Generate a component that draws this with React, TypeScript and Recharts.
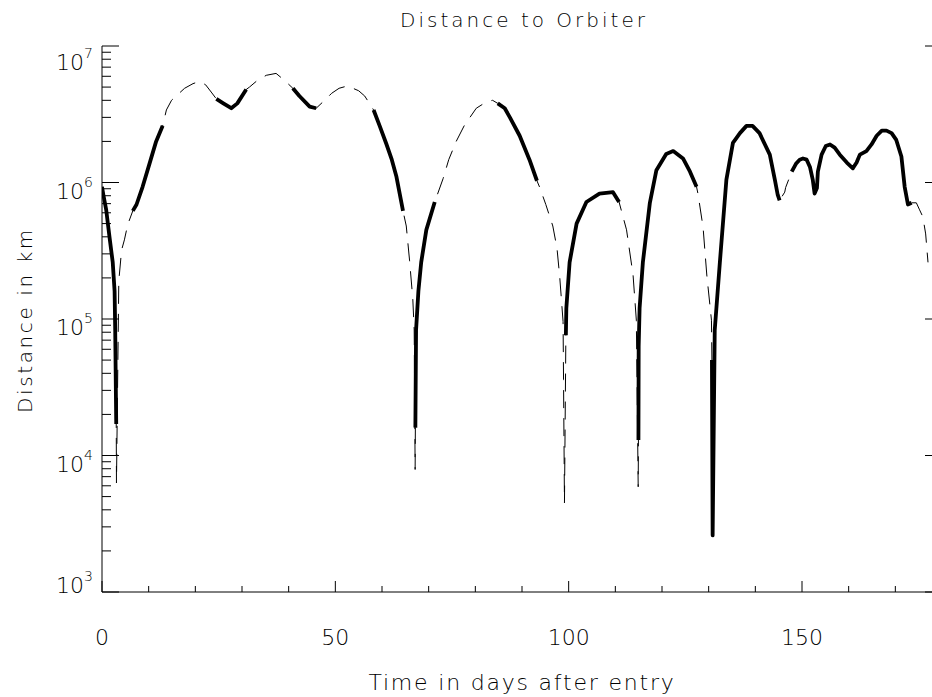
import { LineChart, Line, XAxis, YAxis } from 'recharts';

// time after entry (days)
const days = [
  0, 0.3, 0.9, 1.6, 2.3, 2.7, 2.83, 3.05, 3.1, 3.6, 4.2, 4.8, 5.5,
  6.6, 7.4, 8.7, 10.2, 11.6, 13.0,
  13.8, 14.9, 16.2, 17.7, 19.5, 20.9, 22.2, 23.4,
  24.5, 26.0, 27.7, 29.0, 30.9,
  31.6, 33.3, 35.2, 37.3, 39.1,
  40.9, 42.3, 44.5, 45.9,
  47.7, 49.2, 50.8, 52.6, 55.0, 56.3, 57.3,
  58.2, 59.5, 60.9, 62.1, 63.1, 64.5,
  65.2, 65.9, 66.6, 66.9, 67.1,
  67.15, 67.3, 67.8, 68.4, 69.5, 71.3,
  73.1, 74.3, 75.9, 77.6, 80.2, 82.4, 83.7,
  84.8, 86.3, 87.4, 89.5, 91.6, 93.2,
  93.8, 95.1, 96.6, 97.5, 98.1, 98.8, 98.9, 99.1,
  99.4, 99.5, 100.2, 101.7, 103.8, 106.6, 109.5, 110.8,
  112.4, 113.8, 114.5, 114.9,
  114.95, 115.0, 115.2, 115.9, 117.4, 118.8, 120.9, 122.4, 124.5, 126.0, 127.4,
  127.7, 128.8, 129.6, 130.6,
  130.7, 130.85, 131.3, 132.4, 133.8, 135.2, 136.7, 138.1, 139.4, 140.9, 143.1, 144.2, 144.8, 145.2,
  146.3, 146.5,
  147.8, 148.7, 149.5, 150.2, 151.0, 151.7, 152.3, 152.7, 153.2, 153.4, 154.2, 155.1, 156.0, 157.0,
  158.1, 159.6, 160.9, 161.7, 162.4, 163.8, 164.9, 166.0, 167.1, 168.1, 169.2, 170.2, 171.3, 172.0,
  172.7, 173.5,
  174.5, 175.2, 175.9, 176.5, 177.0,
];

// distance to orbiter (km)
const distance = [
  9.3e5, 8.1e5, 6.3e5, 4.0e5, 2.6e5, 1.6e5, 8.3e4, 1.7e4, 6.3e3, 1.9e5, 3.2e5, 3.8e5, 4.9e5,
  6.2e5, 6.9e5, 9.3e5, 1.38e6, 2.0e6, 2.6e6,
  3.4e6, 4.0e6, 4.4e6, 4.9e6, 5.3e6, 5.5e6, 5.2e6, 4.6e6,
  4.1e6, 3.8e6, 3.5e6, 3.8e6, 4.8e6,
  5.0e6, 5.6e6, 6.1e6, 6.3e6, 5.6e6,
  4.9e6, 4.3e6, 3.6e6, 3.5e6,
  4.0e6, 4.5e6, 4.9e6, 5.1e6, 4.7e6, 4.3e6, 3.8e6,
  3.4e6, 2.6e6, 1.93e6, 1.47e6, 1.1e6, 6.2e5,
  4.8e5, 2.7e5, 1.4e5, 8.3e4, 7.9e3,
  1.6e4, 8.3e4, 1.6e5, 2.6e5, 4.5e5, 7.2e5,
  1.07e6, 1.47e6, 2.0e6, 2.6e6, 3.5e6, 3.9e6, 4.0e6,
  3.8e6, 3.5e6, 3.0e6, 2.2e6, 1.47e6, 1.03e6,
  9.2e5, 6.9e5, 4.8e5, 3.3e5, 2.0e5, 9.6e4, 3.6e4, 4.5e3,
  7.6e4, 1.2e5, 2.6e5, 5.0e5, 7.2e5, 8.3e5, 8.5e5, 7.2e5,
  4.5e5, 2.1e5, 9.8e4, 5.9e3,
  1.3e4, 6.3e4, 1.2e5, 2.6e5, 7.1e5, 1.23e6, 1.62e6, 1.7e6, 1.5e6, 1.2e6, 9.3e5,
  8.3e5, 4.7e5, 2.1e5, 9.8e4,
  5.0e4, 2.6e3, 8.3e4, 2.6e5, 1.05e6, 1.95e6, 2.3e6, 2.6e6, 2.6e6, 2.3e6, 1.6e6, 1.04e6, 8.1e5, 7.4e5,
  8.5e5, 9.2e5,
  1.2e6, 1.37e6, 1.47e6, 1.5e6, 1.47e6, 1.3e6, 1.05e6, 8.3e5, 9.1e5, 1.2e6, 1.6e6, 1.85e6, 1.9e6, 1.8e6,
  1.6e6, 1.4e6, 1.27e6, 1.4e6, 1.6e6, 1.7e6, 1.9e6, 2.2e6, 2.4e6, 2.4e6, 2.3e6, 2.05e6, 1.55e6, 9.3e5,
  6.9e5, 7.1e5,
  7.1e5, 6.3e5, 5.6e5, 4.2e5, 2.6e5,
];

// day ranges drawn with the heavy line
const thickSpans = [
  [0, 3.05],
  [6.6, 13.0],
  [24.5, 30.9],
  [40.9, 45.9],
  [58.2, 64.5],
  [67.15, 71.3],
  [84.8, 93.2],
  [99.4, 110.8],
  [114.95, 127.4],
  [130.7, 145.2],
  [147.8, 173.5],
];

const xTicks = [0, 10, 20, 30, 40, 50, 60, 70, 80, 90, 100, 110, 120, 130, 140, 150, 160, 170, 180];
const xLabels = [0, 50, 100, 150];
const yTicks = [1, 2, 3, 4, 5, 6, 7, 8, 9].flatMap((m) => [1e3, 1e4, 1e5, 1e6].map((d) => m * d)).concat([1e7]).sort((a, b) => a - b);

const data = days.map((d, i) => ({
  day: d,
  thin: distance[i],
  thick: thickSpans.some(([a, b]) => d >= a && d <= b) ? distance[i] : null,
}));

const FONT = '"DejaVu Sans", sans-serif';
const isDecade = (v: number) => Math.abs(Math.log10(v) - Math.round(Math.log10(v))) < 1e-9;

function LeftTick({ x, y, payload }: any) {
  const v = payload.value as number;
  const major = isDecade(v);
  const exp = Math.round(Math.log10(v));
  const base = exp === 7 ? 24 : exp === 3 ? 1 : 16;
  return (
    <g>
      <line x1={x} y1={y} x2={x + (major ? 17 : 9)} y2={y} stroke="#000" strokeWidth={1} />
      {major && (
        <text x={x - 9} y={y + base} textAnchor="end" fontFamily={FONT} fontWeight={200} fontSize={22} fill="#000">
          10
          <tspan dy={-12} fontSize={14}>{exp}</tspan>
        </text>
      )}
    </g>
  );
}

function RightTick({ x, y, payload }: any) {
  const major = isDecade(payload.value);
  return <line x1={x} y1={y} x2={x - (major ? 17 : 9)} y2={y} stroke="#000" strokeWidth={1} />;
}

function BottomTick({ x, y, payload }: any) {
  const major = xLabels.includes(payload.value);
  return (
    <g>
      <line x1={x} y1={y} x2={x} y2={y - (major ? 11 : 6)} stroke="#000" strokeWidth={1} />
      {major && (
        <text x={x} y={y + 53} textAnchor="middle" fontFamily={FONT} fontWeight={200} fontSize={22} fill="#000">
          {payload.value}
        </text>
      )}
    </g>
  );
}

function TopTick({ x, y, payload }: any) {
  const major = xLabels.includes(payload.value);
  return <line x1={x} y1={y} x2={x} y2={y + (major ? 11 : 6)} stroke="#000" strokeWidth={1} />;
}

export default function App() {
  return (
    <div style={{ position: 'absolute', left: 0, top: 0, width: 932, height: 697, overflow: 'hidden', background: '#fff' }}>
      <LineChart width={950} height={697} data={data} margin={{ top: 46, right: 2, bottom: 0, left: 0 }}>
        <XAxis
          dataKey="day"
          type="number"
          domain={[0, 180]}
          allowDataOverflow
          ticks={xTicks}
          interval={0}
          height={105}
          tickSize={0}
          tickMargin={0}
          tickLine={false}
          axisLine={{ stroke: '#000', strokeWidth: 1 }}
          tick={<BottomTick />}
        />
        <XAxis
          xAxisId="top"
          orientation="top"
          dataKey="day"
          type="number"
          domain={[0, 180]}
          allowDataOverflow
          ticks={xTicks}
          interval={0}
          height={0}
          tickSize={0}
          tickMargin={0}
          tickLine={false}
          axisLine={{ stroke: '#000', strokeWidth: 1 }}
          tick={<TopTick />}
        />
        <YAxis
          type="number"
          scale="log"
          domain={[1e3, 1e7]}
          allowDataOverflow
          ticks={yTicks}
          interval={0}
          width={102}
          tickSize={0}
          tickMargin={0}
          tickLine={false}
          axisLine={{ stroke: '#000', strokeWidth: 1 }}
          tick={<LeftTick />}
        />
        <YAxis
          yAxisId="right"
          orientation="right"
          type="number"
          scale="log"
          domain={[1e3, 1e7]}
          allowDataOverflow
          ticks={yTicks}
          interval={0}
          width={6}
          tickSize={0}
          tickMargin={0}
          tickLine={false}
          axisLine={{ stroke: '#000', strokeWidth: 1 }}
          tick={<RightTick />}
        />
        <Line
          yAxisId="right"
          xAxisId="top"
          type="linear"
          dataKey="thin"
          stroke="none"
          dot={false}
          activeDot={false}
          isAnimationActive={false}
        />
        <Line
          type="linear"
          dataKey="thin"
          stroke="#000"
          strokeWidth={1}
          strokeDasharray="18 10"
          dot={false}
          isAnimationActive={false}
        />
        <Line
          type="linear"
          dataKey="thick"
          stroke="#000"
          strokeWidth={3.8}
          strokeLinejoin="round"
          dot={false}
          connectNulls={false}
          isAnimationActive={false}
        />
      </LineChart>
      <svg width={932} height={697} style={{ position: 'absolute', left: 0, top: 0, pointerEvents: 'none' }}>
        <text x={524} y={27} textAnchor="middle" fontFamily={FONT} fontWeight={200} fontSize={20} letterSpacing={3} fill="#000">
          Distance to Orbiter
        </text>
        <text x={522} y={690} textAnchor="middle" fontFamily={FONT} fontWeight={200} fontSize={22} letterSpacing={1.8} fill="#000">
          Time in days after entry
        </text>
        <text
          x={32}
          y={320}
          transform="rotate(-90 32 320)"
          textAnchor="middle"
          fontFamily={FONT}
          fontWeight={200}
          fontSize={20}
          letterSpacing={2.6}
          fill="#000"
        >
          Distance in km
        </text>
      </svg>
    </div>
  );
}
